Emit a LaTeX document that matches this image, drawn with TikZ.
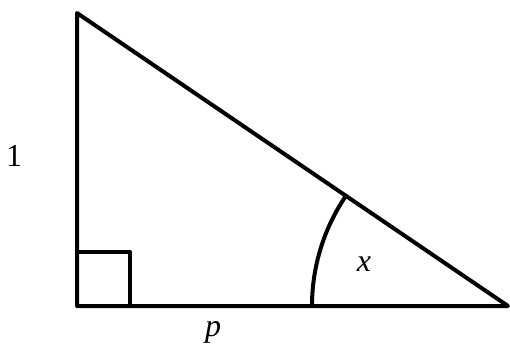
\documentclass[tikz,border=0pt]{standalone}
\usepackage{fontspec}
\setmainfont{Liberation Serif}
\begin{document}
\begin{tikzpicture}[x=1pt,y=-1pt,
  edge/.style={line width=4pt,line join=round,line cap=round},
  lbl/.style={font=\fontsize{32}{36}\selectfont,inner sep=0pt}]
\useasboundingbox (0,0) rectangle (510,349);
\coordinate (A) at (77,13);
\coordinate (B) at (77,306);
\coordinate (C) at (508,306);
\draw[edge] (A) -- (B) -- (C) -- cycle;
\coordinate (S1) at (77,252);
\coordinate (S2) at (130,252);
\coordinate (S3) at (130,306);
\draw[edge] (S1) -- (S2) -- (S3);
\coordinate (R1) at (312,306);
\draw[edge] (R1) arc[start angle=180,end angle=214.2,radius=196];
\node[lbl] (one) at (14,156) {1};
\node[lbl] (xl) at (364,264) {\textit{x}};
\node[lbl] (pl) at (213,332) {\textit{p}};
\end{tikzpicture}
\end{document}
